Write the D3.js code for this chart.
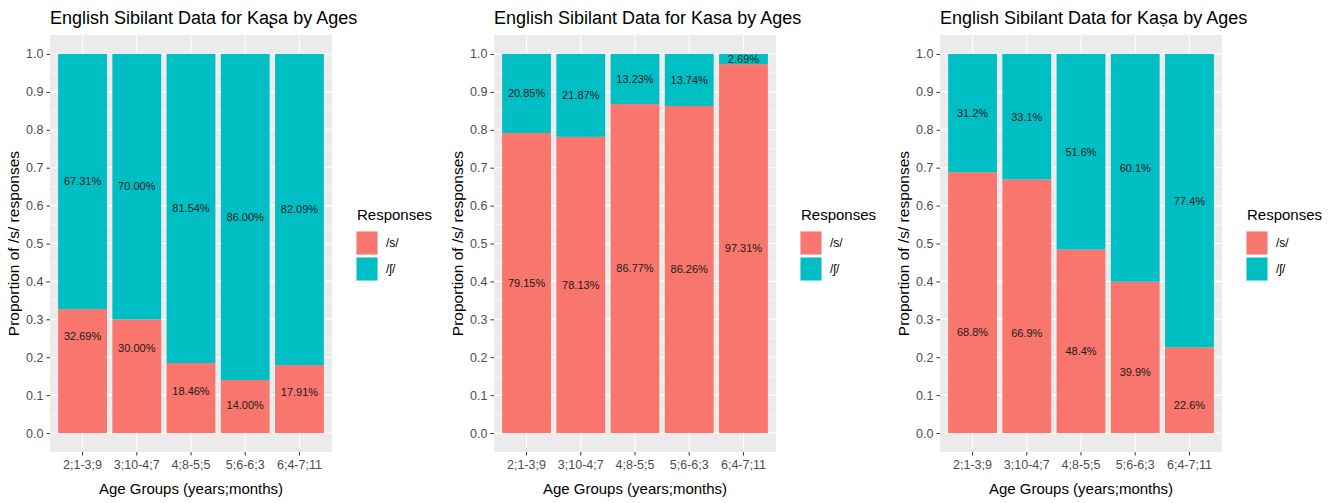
<!DOCTYPE html>
<html>
<head>
<meta charset="utf-8">
<script src="https://cdn.jsdelivr.net/npm/d3@7"></script>
<style>
  html, body { margin: 0; padding: 0; background: #fff; }
  svg { display: block; font-family: "Liberation Sans", Arial, sans-serif; }
</style>
</head>
<body>
<svg id="chart" width="1332" height="503"></svg>
<script>
// Age groups shared by all three panels
const ageGroups = ["2;1-3;9", "3;10-4;7", "4;8-5;5", "5;6-6;3", "6;4-7;11"];
const yTicks = [0, 0.1, 0.2, 0.3, 0.4, 0.5, 0.6, 0.7, 0.8, 0.9, 1.0];
const responses = ["/s/", "/ʃ/"];

const titles = [
  "English Sibilant Data for Kaʂa by Ages",
  "English Sibilant Data for Kasa by Ages",
  "English Sibilant Data for Kaṣa by Ages"
];

// Proportion of /s/ responses per age group
const kashaS = [0.3269, 0.3000, 0.1846, 0.1400, 0.1791];
const kasaS  = [0.7915, 0.7813, 0.8677, 0.8626, 0.9731];
const kasaDotS = [0.688, 0.669, 0.484, 0.399, 0.226];

// Proportion of /ʃ/ responses per age group
const kashaSh = [0.6731, 0.7000, 0.8154, 0.8600, 0.8209];
const kasaSh  = [0.2085, 0.2187, 0.1323, 0.1374, 0.0269];
const kasaDotSh = [0.312, 0.331, 0.516, 0.601, 0.774];

// Heights at which the /s/ labels sit (null = middle of the segment)
const kashaSLabelAt = [0.255, 0.224, 0.111, 0.074, 0.108];
const kasaSLabelAt = null;
const kasaDotSLabelAt = [0.266, 0.263, 0.216, 0.161, 0.074];

const panels = [
  { title: titles[0], s: kashaS, sh: kashaSh, sAt: kashaSLabelAt, fmt: d3.format(".2%") },
  { title: titles[1], s: kasaS, sh: kasaSh, sAt: kasaSLabelAt, fmt: d3.format(".2%") },
  { title: titles[2], s: kasaDotS, sh: kasaDotSh, sAt: kasaDotSLabelAt, fmt: d3.format(".1%") }
];

const colors = { "/s/": "#F8766D", "/ʃ/": "#00BFC4" };
const panelLefts = [50, 494, 940];
const panelW = 282, panelTop = 35, panelBottom = 452;

const svg = d3.select("#chart");

panels.forEach((p, i) => {
  const left = panelLefts[i], right = left + panelW;
  const g = svg.append("g");

  const x = d3.scaleBand().domain(ageGroups).range([left, right])
    .paddingInner(0.1).paddingOuter(0.15);
  const y = d3.scaleLinear().domain([-0.05, 1.05]).range([panelBottom, panelTop]);

  // panel background
  g.append("rect").attr("x", left).attr("y", panelTop)
    .attr("width", right - left).attr("height", panelBottom - panelTop).attr("fill", "#EBEBEB");

  // minor grid
  g.selectAll(".minor").data(d3.range(0.05, 1, 0.1)).join("line")
    .attr("x1", left).attr("x2", right)
    .attr("y1", d => y(d)).attr("y2", d => y(d))
    .attr("stroke", "#fff").attr("stroke-width", 0.55);
  // major grid
  g.selectAll(".major").data(yTicks).join("line")
    .attr("x1", left).attr("x2", right)
    .attr("y1", d => y(d)).attr("y2", d => y(d))
    .attr("stroke", "#fff").attr("stroke-width", 1.1);
  g.selectAll(".vgrid").data(ageGroups).join("line")
    .attr("y1", panelTop).attr("y2", panelBottom)
    .attr("x1", d => x(d) + x.bandwidth() / 2).attr("x2", d => x(d) + x.bandwidth() / 2)
    .attr("stroke", "#fff").attr("stroke-width", 1.1);

  // stacked bars: /s/ at bottom, /ʃ/ on top
  const rows = ageGroups.map((a, k) => ({ age: a, s: p.s[k], sh: p.sh[k], k }));
  g.selectAll(".barS").data(rows).join("rect")
    .attr("x", d => x(d.age)).attr("width", x.bandwidth())
    .attr("y", d => y(d.s)).attr("height", d => y(0) - y(d.s))
    .attr("fill", colors["/s/"]);
  g.selectAll(".barSh").data(rows).join("rect")
    .attr("x", d => x(d.age)).attr("width", x.bandwidth())
    .attr("y", d => y(d.s + d.sh)).attr("height", d => y(d.s) - y(d.s + d.sh))
    .attr("fill", colors["/ʃ/"]);

  // value labels
  const lab = g.append("g").attr("font-size", 11).attr("fill", "#1a1a1a")
    .attr("text-anchor", "middle");
  lab.selectAll(".lS").data(rows).join("text")
    .attr("x", d => x(d.age) + x.bandwidth() / 2)
    .attr("y", d => y(p.sAt ? p.sAt[d.k] : d.s / 2))
    .attr("dy", "0.35em")
    .text(d => p.fmt(d.s));
  lab.selectAll(".lSh").data(rows).join("text")
    .attr("x", d => x(d.age) + x.bandwidth() / 2)
    .attr("y", d => y(d.s + d.sh / 2))
    .attr("dy", "0.35em")
    .text(d => p.fmt(d.sh));

  // axes
  const ya = g.append("g").attr("transform", `translate(${left},0)`)
    .call(d3.axisLeft(y).tickValues(yTicks).tickFormat(d3.format(".1f")).tickSize(3.5).tickPadding(3));
  const xa = g.append("g").attr("transform", `translate(0,${panelBottom})`)
    .call(d3.axisBottom(x).tickSize(3.5).tickPadding(5));
  [ya, xa].forEach(a => {
    a.select(".domain").remove();
    a.selectAll(".tick line").attr("stroke", "#333");
    a.selectAll(".tick text").attr("fill", "#4D4D4D").attr("font-size", 12.5)
      .attr("font-family", "'Liberation Sans', Arial, sans-serif");
  });

  // titles
  g.append("text").attr("x", left).attr("y", 24)
    .attr("font-size", 18).attr("fill", "#000").text(p.title);
  g.append("text").attr("x", (left + right) / 2).attr("y", 494)
    .attr("text-anchor", "middle").attr("font-size", 15).attr("fill", "#000")
    .text("Age Groups (years;months)");
  g.append("text")
    .attr("transform", `translate(${left - 31},${(panelTop + panelBottom) / 2}) rotate(-90)`)
    .attr("text-anchor", "middle").attr("font-size", 15.5).attr("fill", "#000")
    .text("Proportion of /s/ responses");

  // legend
  const lx = right + 24;
  const leg = g.append("g");
  leg.append("text").attr("x", lx + 1).attr("y", 220)
    .attr("font-size", 15).attr("fill", "#000").text("Responses");
  responses.forEach((r, j) => {
    const ky = 231 + j * 26;
    leg.append("rect").attr("x", lx).attr("y", ky).attr("width", 22).attr("height", 24)
      .attr("fill", "#F2F2F2");
    leg.append("rect").attr("x", lx + 0.5).attr("y", ky + 0.5).attr("width", 21).attr("height", 23)
      .attr("fill", colors[r]);
    leg.append("text").attr("x", lx + 30).attr("y", ky + 12).attr("dy", "0.35em")
      .attr("font-size", 12).attr("fill", "#000").text(r);
  });
});
</script>
</body>
</html>
